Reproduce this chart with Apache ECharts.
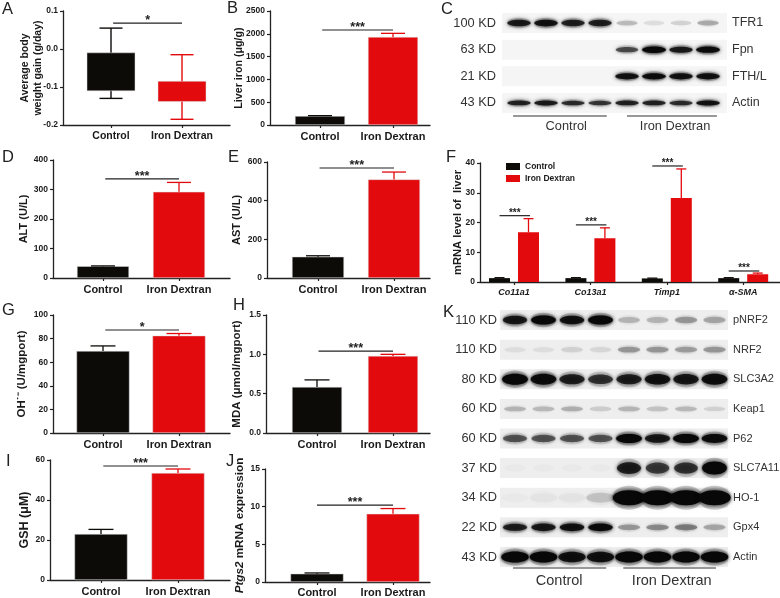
<!DOCTYPE html>
<html><head><meta charset="utf-8">
<style>html,body{margin:0;padding:0;background:#fff}#c{width:780px;height:598px}</style>
<script src="https://cdn.jsdelivr.net/npm/echarts@6/dist/echarts.min.js"></script>
</head><body><div id="c"></div>
<script>
// ---------- data ----------
const groups = ['Control', 'Iron Dextran'];
const aBoxLow = [-0.11, -0.138], aBoxHigh = [-0.01, -0.085], aWhiskLow = [-0.13, -0.185], aWhiskHigh = [0.055, -0.015];
const bValues = [195, 1930], bErr = [205, 2010];
const dValues = [40, 292], dErr = [41, 324];
const eValues = [110, 510], eErr = [115, 548];
const gValues = [69.5, 82.5], gErr = [73.8, 84.3];
const hValues = [0.585, 0.98], hErr = [0.675, 1.0];
const iValues = [23, 53.5], iErr = [25.3, 55.5];
const jValues = [1.1, 9.05], jErr = [1.2, 9.75];
const fGenes = ['Co11a1', 'Co13a1', 'Timp1', 'α-SMA'];
const fControl = [1.3, 1.3, 1.2, 1.3], fControlErr = [1.45, 1.45, 1.3, 1.45];
const fIron = [16.7, 14.7, 28.2, 2.6], fIronErr = [21.3, 18.2, 38, 3.0];
const fSig = [[22.3, '***'], [19.2, '***'], [39, '***'], [3.7, '***']];
const blotCKD = ['100 KD', '63 KD', '21 KD', '43 KD'];
const blotCNames = ['TFR1', 'Fpn', 'FTH/L', 'Actin'];
const blotC = [
  [.85, .9, .8, .8, .2, .08, .12, .25],
  [0, 0, 0, 0, .6, 1, .85, .95],
  [0, 0, 0, 0, .9, .95, .9, .9],
  [.8, .85, .75, .7, .8, .8, .75, .9]];
const blotKKD = ['110 KD', '110 KD', '80 KD', '60 KD', '60 KD', '37 KD', '34 KD', '22 KD', '43 KD'];
const blotKNames = ['pNRF2', 'NRF2', 'SLC3A2', 'Keap1', 'P62', 'SLC7A11', 'HO-1', 'Gpx4', 'Actin'];
const blotK = [
  [.85, 1, .9, 1, .2, .2, .3, .25],
  [.06, .06, .1, .08, .3, .3, .28, .3],
  [1, .95, .8, .7, .8, .9, .85, .95],
  [.2, .18, .22, .12, .2, .15, .18, .1],
  [.55, .55, .55, .55, 1, .85, 1, .95],
  [.02, .02, .02, .02, .8, .65, .7, 1],
  [.02, .03, .03, .15, 1, 1, 1, 1],
  [.8, .85, .9, .95, .3, .35, .4, .25],
  [1, 1, .9, .9, 1, 1, 1, 1]];

// ---------- style & layout ----------
const FONT = 'Liberation Sans', BLACK = '#0c0b08', RED = '#e30a0d', AX = '#222';
const grid = [], xAxis = [], yAxis = [], series = [];

function addPanel(p) {
  const idx = grid.length, dx = p.x1 - p.x0;
  grid.push({ left: p.l, top: p.t, width: p.r - p.l, height: p.b - p.t, outerBoundsMode: 'none' });
  const ticks = p.cats.map((_, i) => i);
  xAxis.push({
    type: 'value', gridIndex: idx, min: (p.l - p.x0) / dx, max: (p.r - p.x0) / dx, splitLine: { show: false },
    axisLine: { onZero: false, lineStyle: { color: AX, width: 1.3 } },
    axisTick: { customValues: ticks, length: 3, lineStyle: { color: AX, width: 1.2 } },
    axisLabel: {
      customValues: ticks, margin: p.catMargin || 6, formatter: v => p.cats[Math.round(v)], color: '#1a1a1a',
      fontFamily: FONT, fontWeight: 'bold', fontSize: p.catSize || 11, fontStyle: p.catItalic ? 'italic' : 'normal', hideOverlap: false
    }
  });
  yAxis.push({
    type: 'value', gridIndex: idx, min: p.min, max: p.max, interval: p.interval, splitLine: { show: false },
    name: p.name, nameLocation: 'middle', nameGap: p.gap, nameMoveOverlap: false,
    nameTextStyle: {
      fontFamily: FONT, fontWeight: 'bold', fontSize: p.nameSize, color: '#1a1a1a', lineHeight: p.nameSize + 3,
      rich: { i: { fontFamily: FONT, fontWeight: 'bold', fontStyle: 'italic', fontSize: p.nameSize, color: '#1a1a1a' } }
    },
    axisLine: { show: true, onZero: false, lineStyle: { color: AX, width: 1.3 } },
    axisTick: { show: true, length: 3, lineStyle: { color: AX, width: 1.2 } },
    axisLabel: {
      margin: 5, color: '#1a1a1a', fontFamily: FONT, fontWeight: 'bold', fontSize: 8.5,
      formatter: p.dec ? (v => v.toFixed(p.dec)) : (v => String(v))
    }
  });
  return idx;
}

function errSeries(idx, pts, color, cap) {
  series.push({
    type: 'custom', xAxisIndex: idx, yAxisIndex: idx, data: pts, silent: true, z: 3,
    renderItem(params, api) {
      const a = api.coord([api.value(0), api.value(1)]), b = api.coord([api.value(0), api.value(2)]);
      const st = { stroke: color, lineWidth: 1.3, fill: 'none' };
      return {
        type: 'group', children: [
          { type: 'line', shape: { x1: a[0], y1: a[1], x2: b[0], y2: b[1] }, style: st },
          { type: 'line', shape: { x1: b[0] - cap / 2, y1: b[1], x2: b[0] + cap / 2, y2: b[1] }, style: st }]
      };
    }
  });
}

function sigSeries(idx, x0, x1, y, label, size) {
  series.push({
    type: 'custom', xAxisIndex: idx, yAxisIndex: idx, data: [[x0, x1, y]], silent: true, z: 4,
    renderItem(params, api) {
      const a = api.coord([api.value(0), api.value(2)]), b = api.coord([api.value(1), api.value(2)]);
      return {
        type: 'group', children: [
          { type: 'line', shape: { x1: a[0], y1: a[1], x2: b[0], y2: b[1] }, style: { stroke: '#222', lineWidth: 1.2 } },
          { type: 'text', style: { text: label, x: (a[0] + b[0]) / 2, y: a[1] - 2.5, align: 'center', verticalAlign: 'middle', fontFamily: FONT, fontWeight: 'bold', fontSize: size || 12.5, fill: '#222' } }]
      };
    }
  });
}

function barPanel(p, vals, errs, sig, sigLabel) {
  const idx = addPanel(Object.assign({ cats: groups }, p));
  series.push({
    type: 'bar', xAxisIndex: idx, yAxisIndex: idx, barWidth: p.bw, silent: true,
    data: vals.map((v, i) => ({ value: [i, v], itemStyle: { color: i ? RED : BLACK, borderColor: '#ddd', borderWidth: .5 } }))
  });
  errSeries(idx, [[0, vals[0], errs[0]]], BLACK, p.cap);
  errSeries(idx, [[1, vals[1], errs[1]]], RED, p.cap);
  sigSeries(idx, sig[0], sig[1], sig[2], sigLabel);
}

// A: floating boxes with whiskers
(function () {
  const idx = addPanel({ l: 63, r: 230, t: 11, b: 125, x0: 111, x1: 182, cats: groups, min: -0.2, max: 0.1, interval: 0.1, dec: 1, name: 'Average body\nweight gain (g/day)', nameSize: 10.5, gap: 18, catSize: 10.5 });
  [BLACK, RED].forEach((c, i) => {
    series.push({
      type: 'custom', xAxisIndex: idx, yAxisIndex: idx, silent: true, z: 2,
      data: [[i, aBoxLow[i], aBoxHigh[i], aWhiskLow[i], aWhiskHigh[i]]],
      renderItem(params, api) {
        const x = api.value(0), lo = api.coord([x, api.value(1)]), hi = api.coord([x, api.value(2)]), wl = api.coord([x, api.value(3)]), wh = api.coord([x, api.value(4)]);
        const st = { stroke: c, lineWidth: 1.4 }, hw = 24, cw = 11.5;
        return {
          type: 'group', children: [
            { type: 'line', shape: { x1: wl[0], y1: wl[1], x2: wh[0], y2: wh[1] }, style: st },
            { type: 'line', shape: { x1: wl[0] - cw, y1: wl[1], x2: wl[0] + cw, y2: wl[1] }, style: st },
            { type: 'line', shape: { x1: wh[0] - cw, y1: wh[1], x2: wh[0] + cw, y2: wh[1] }, style: st },
            { type: 'rect', shape: { x: lo[0] - hw, y: hi[1], width: 2 * hw, height: lo[1] - hi[1] }, style: { fill: c, stroke: '#ddd', lineWidth: .5 } }]
        };
      }
    });
  });
  sigSeries(idx, 0.03, 1, 0.068, '*');
})();

barPanel({ l: 270, r: 430, t: 11, b: 125, x0: 320, x1: 393, min: 0, max: 2500, interval: 500, name: 'Liver iron (μg/g)', nameSize: 10.7, gap: 24, bw: 50, cap: 24 }, bValues, bErr, [0.03, 1, 2083], '***');
barPanel({ l: 53, r: 230, t: 160, b: 278, x0: 103, x1: 179, min: 0, max: 400, interval: 100, name: 'ALT (U/L)', nameSize: 11, gap: 22, bw: 52, cap: 24 }, dValues, dErr, [0.03, 1, 336], '***');
barPanel({ l: 267, r: 430, t: 162, b: 278, x0: 318, x1: 394, min: 0, max: 600, interval: 200, name: 'AST (U/L)', nameSize: 11, gap: 23, bw: 52, cap: 24 }, eValues, eErr, [0.02, 1, 569], '***');
barPanel({ l: 53, r: 230, t: 315, b: 433, x0: 103, x1: 179, min: 0, max: 100, interval: 20, name: 'OH˙⁻ (U/mgport)', nameSize: 11.5, gap: 24, bw: 53, cap: 25 }, gValues, gErr, [0.03, 1, 87.3], '*');
barPanel({ l: 266, r: 430, t: 315, b: 433, x0: 317, x1: 393, min: 0, max: 1.5, interval: 0.5, dec: 1, name: 'MDA (μmol/mgport)', nameSize: 11.5, gap: 22, bw: 50, cap: 25 }, hValues, hErr, [0.02, 1, 1.04], '***');
barPanel({ l: 50, r: 230, t: 460, b: 580, x0: 101, x1: 178, min: 0, max: 60, interval: 20, name: 'GSH (μM)', nameSize: 12.5, gap: 18, bw: 53, cap: 25 }, iValues, iErr, [0.03, 1, 57], '***');
barPanel({ l: 265, r: 430, t: 469, b: 582, x0: 317, x1: 393, min: 0, max: 15, interval: 5, name: '{i|Ptgs2} mRNA expression', nameSize: 11.7, gap: 18, bw: 53, cap: 25, catMargin: 5 }, jValues, jErr, [0, 1, 10.2], '***');

// F: grouped bars
(function () {
  const idx = addPanel({ l: 480, r: 780, t: 163, b: 282, x0: 514, x1: 590.4, cats: fGenes, min: 0, max: 40, interval: 10, name: 'mRNA level of  liver', nameSize: 11.2, gap: 15, catSize: 9, catItalic: true, catMargin: 6 });
  const off = 14.5 / 76.4;
  series.push({ type: 'bar', name: 'Control', xAxisIndex: idx, yAxisIndex: idx, barWidth: 21, barGap: '38%', silent: true, itemStyle: { color: BLACK }, data: fControl.map((v, i) => [i, v]) });
  series.push({ type: 'bar', name: 'Iron Dextran', xAxisIndex: idx, yAxisIndex: idx, barWidth: 21, barGap: '38%', silent: true, itemStyle: { color: RED }, data: fIron.map((v, i) => [i, v]) });
  errSeries(idx, fControl.map((v, i) => [i - off, v, fControlErr[i]]), BLACK, 10);
  errSeries(idx, fIron.map((v, i) => [i + off, v, fIronErr[i]]), RED, 10);
  fSig.forEach((s, i) => sigSeries(idx, i - off, i + off + 0.02, s[0], s[1], 10));
})();

// Western blots
function addBlot(b, rows, kd, names) {
  const idx = grid.length, dx = b.x1 - b.x0;
  grid.push({ left: b.l, top: b.t, width: b.r - b.l, height: b.b - b.t, outerBoundsMode: 'none' });
  xAxis.push({
    type: 'value', gridIndex: idx, min: (b.l - b.x0) / dx, max: (b.r - b.x0) / dx, splitLine: { show: false },
    axisLine: { show: false }, axisTick: { show: false },
    axisLabel: { customValues: b.textAt, margin: b.textMargin, formatter: v => groups[v < 3.5 ? 0 : 1], fontFamily: FONT, fontSize: b.textSize, color: '#333', hideOverlap: false }
  });
  const yIdx = yAxis.length;
  const axisCommon = { type: 'category', gridIndex: idx, inverse: true, axisLine: { show: false }, axisTick: { show: false }, splitLine: { show: false } };
  yAxis.push(Object.assign({}, axisCommon, { data: kd, position: 'left', axisLabel: { interval: 0, margin: b.kdMargin, fontFamily: FONT, fontSize: 12.8, color: '#333' } }));
  yAxis.push(Object.assign({}, axisCommon, { data: names, position: 'right', axisLabel: { interval: 0, margin: 5, fontFamily: FONT, fontSize: b.nameSize, color: '#333' } }));
  // row backgrounds
  series.push({
    type: 'custom', xAxisIndex: idx, yAxisIndex: yIdx, silent: true, data: rows.map((_, r) => [r]),
    renderItem(params, api) {
      const c = api.coord([0, api.value(0)]);
      return { type: 'rect', shape: { x: b.l, y: c[1] - b.rowH / 2, width: b.r - b.l, height: b.rowH }, style: { fill: b.rowBg } };
    }
  });
  // bands
  const pts = [];
  rows.forEach((row, r) => row.forEach((v, lane) => { if (v > 0) pts.push([lane, r, v]); }));
  series.push({
    type: 'custom', xAxisIndex: idx, yAxisIndex: yIdx, silent: true, data: pts,
    renderItem(params, api) {
      const c = api.coord([api.value(0), api.value(1)]), v = api.value(2), st = (b.shape[api.value(1)] || [12, 4]);
      const rx = st[0] * (0.85 + 0.15 * v), ry = st[1] * (0.6 + 0.4 * v);
      const col = 'rgba(8,8,8,' + Math.min(1, v).toFixed(2) + ')', halo = 'rgba(8,8,8,' + (v * 0.2).toFixed(2) + ')';
      return {
        type: 'group', children: [
          { type: 'ellipse', shape: { cx: c[0], cy: c[1], rx: rx, ry: ry * 1.6 }, style: { fill: halo, shadowBlur: 7, shadowColor: halo } },
          { type: 'ellipse', shape: { cx: c[0], cy: c[1], rx: rx * 0.95, ry: ry }, style: { fill: col, shadowBlur: 4, shadowColor: col } }]
      };
    }
  });
  // group underlines
  series.push({
    type: 'custom', xAxisIndex: idx, yAxisIndex: yIdx, silent: true, data: b.lines,
    renderItem(params, api) {
      const a = api.coord([api.value(0), rows.length - 1]), e = api.coord([api.value(1), rows.length - 1]);
      return { type: 'line', shape: { x1: a[0], y1: a[1] + b.lineOff, x2: e[0], y2: a[1] + b.lineOff }, style: { stroke: '#333', lineWidth: 1.1 } };
    }
  });
}

addBlot({
  l: 502, r: 727, t: 9.7, b: 116.3, x0: 519, x1: 546, rowH: 20, rowBg: '#f5f5f5', textAt: [1.75, 5.78], textMargin: 4, textSize: 12.8, kdMargin: 6, nameSize: 12.5,
  lineOff: 13, lines: [[-0.22, 3.25], [4.0, 7.33]],
  shape: [[12.5, 3.5], [12.5, 3.2], [12.5, 3.2], [12.5, 2.6]]
}, blotC, blotCKD, blotCNames);

addBlot({
  l: 500, r: 728, t: 305.2, b: 571.8, x0: 515, x1: 543.5, rowH: 20, rowBg: '#eeeeee', textAt: [1.55, 5.5], textMargin: 2, textSize: 14.5, kdMargin: 3, nameSize: 11,
  lineOff: 11, lines: [[-0.07, 3.2], [3.8, 7.05]],
  shape: [[13, 4.5], [13, 4], [13.5, 5.5], [13, 3.5], [13.5, 4.5], [13, 6.5], [17, 7.5], [13, 4], [14.5, 5.5]]
}, blotK, blotKKD, blotKNames);

// Panel letters
const letters = [['A', 2, 1], ['B', 227, 0], ['C', 441, 1], ['D', 2, 149], ['E', 228, 149], ['F', 446, 149], ['G', 2, 302], ['H', 233, 297], ['I', 6, 453], ['J', 226, 453], ['K', 443, 304]];

const chart = echarts.init(document.getElementById('c'), null, { renderer: 'canvas' });
chart.setOption({
  animation: false,
  backgroundColor: '#fff',
  title: letters.map(a => ({ text: a[0], left: a[1], top: a[2], padding: 0, textStyle: { fontFamily: FONT, fontWeight: 'normal', fontSize: 16.5, color: '#222' } })),
  legend: {
    data: ['Control', 'Iron Dextran'], left: 506, top: 162, orient: 'vertical', icon: 'rect', itemWidth: 14, itemHeight: 7, itemGap: 3, padding: 0, selectedMode: false,
    textStyle: { fontFamily: FONT, fontWeight: 'bold', fontSize: 8.5, color: '#1a1a1a' }
  },
  grid, xAxis, yAxis, series
});
</script></body></html>
